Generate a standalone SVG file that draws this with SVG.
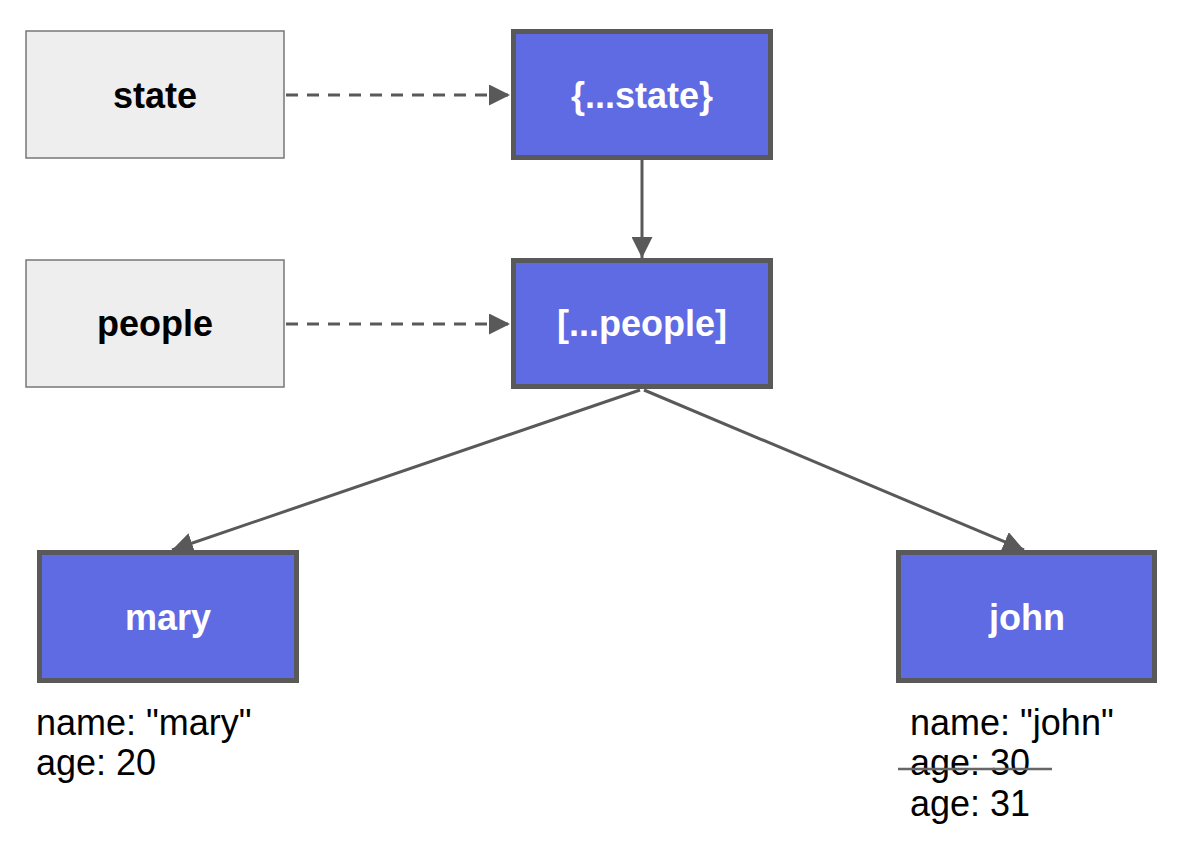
<svg xmlns="http://www.w3.org/2000/svg" width="1180" height="842" viewBox="0 0 1180 842">
<style>
.src{fill:#eeeeee;stroke:#777777;stroke-width:1.5}
.blk{fill:#5f6be3;stroke:#595959;stroke-width:5}
.lbl{font-family:"Liberation Sans",Arial,sans-serif;font-size:36px;font-weight:bold;text-anchor:middle}
.dk{fill:#000000}
.wt{fill:#ffffff}
.note{font-family:"Liberation Sans",Arial,sans-serif;font-size:36px;fill:#000000}
.ln{stroke:#595959;stroke-width:3;fill:none}
.dash{stroke-dasharray:12 9}
</style>
<defs>
<marker id="ah2" viewBox="0 0 10 10" refX="10" refY="5" markerWidth="7" markerHeight="7" orient="auto">
<path d="M0,0 L10,5 L0,10 Z" fill="#595959"/>
</marker>
</defs>
<rect width="1180" height="842" fill="#ffffff"/>
<g id="connectors">
<line class="ln dash" x1="286" y1="95" x2="510" y2="95" marker-end="url(#ah2)"/>
<line class="ln dash" x1="286" y1="324" x2="510" y2="324" marker-end="url(#ah2)"/>
<line class="ln" x1="642" y1="160" x2="642" y2="258" marker-end="url(#ah2)"/>
<line class="ln" x1="640" y1="390" x2="172" y2="550" marker-end="url(#ah2)"/>
<line class="ln" x1="644" y1="390" x2="1024" y2="550" marker-end="url(#ah2)"/>
</g>
<g id="state">
<rect class="src" x="26" y="31" width="258" height="127"/>
<text class="lbl dk" x="155" y="108">state</text>
</g>
<g id="spread-state">
<rect class="blk" x="513.5" y="31.5" width="257" height="126"/>
<text class="lbl wt" x="642" y="108">{...state}</text>
</g>
<g id="people">
<rect class="src" x="26" y="260" width="258" height="127"/>
<text class="lbl dk" x="155" y="336">people</text>
</g>
<g id="spread-people">
<rect class="blk" x="513.5" y="260.5" width="257" height="126"/>
<text class="lbl wt" x="642" y="336">[...people]</text>
</g>
<g id="mary">
<rect class="blk" x="39.5" y="552.5" width="257" height="128"/>
<text class="lbl wt" x="168" y="630">mary</text>
<text class="note" x="36" y="735">name: "mary"</text>
<text class="note" x="36" y="775">age: 20</text>
</g>
<g id="john">
<rect class="blk" x="898.5" y="552.5" width="256" height="128"/>
<text class="lbl wt" x="1027" y="630">john</text>
<text class="note" x="910" y="735">name: "john"</text>
<text class="note" x="910" y="775">age: 30</text>
<line x1="898" y1="769" x2="1052" y2="769" stroke="#666666" stroke-width="2.5"/>
<text class="note" x="910" y="816">age: 31</text>
</g>
</svg>
